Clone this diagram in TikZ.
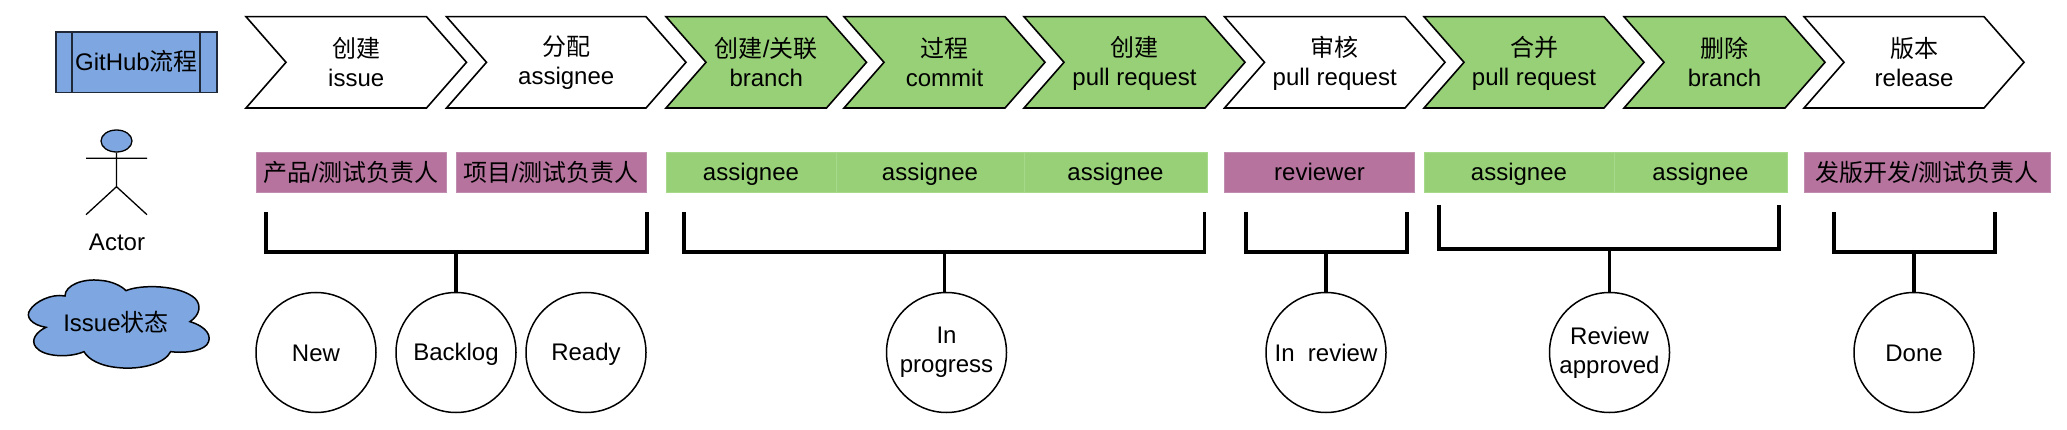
\documentclass[tikz,border=0pt]{standalone}
\usepackage{fontspec}
\setmainfont{Liberation Sans}
\newfontfamily\cjkf{Noto Sans CJK SC}
\usetikzlibrary{shapes.geometric}
\newcommand{\zh}[1]{{\cjkf #1}}
\newcommand{\lnstrut}{\rule{0pt}{20pt}\rule[-3pt]{0pt}{3pt}}
\newcommand{\nl}{\\\lnstrut}
\definecolor{flowblue}{HTML}{7EA6E0}
\definecolor{flowgreen}{HTML}{97D077}
\definecolor{flowgreenline}{HTML}{A6D98A}
\definecolor{flowpurple}{HTML}{B5739D}
\definecolor{flowpurpleline}{HTML}{C08CB0}
\tikzset{
  x=1pt,y=-1pt,
  txt/.style={font=\fontsize{24}{29}\selectfont,align=center,text=black,inner sep=0pt,execute at begin node=\lnstrut},
  chevline/.style={draw=black,line width=1.6pt,line join=miter},
  greenbox/.style={txt,fill=flowgreen,draw=flowgreenline,line width=1pt,minimum height=39.5pt},
  purplebox/.style={txt,fill=flowpurple,draw=flowpurpleline,line width=1pt,minimum height=39.5pt},
  statecircle/.style={txt,circle,draw=black,fill=white,line width=1.5pt,minimum size=120pt},
  bracketline/.style={draw=black,line width=3.8pt,line cap=butt,line join=miter},
  thinline/.style={draw=black,line width=1.3pt},
}
% name, left, tip, fill, text
\newcommand{\chev}[5]{%
  \path[chevline,fill=#4] (#2,16.7) -- (#3-40,16.7) -- (#3,62.3) -- (#3-40,108) -- (#2,108) -- (#2+40,62.3) -- cycle;
  \node[txt] (#1) at ({(#2+#3)/2},63) {#5};}
\begin{document}
\begin{tikzpicture}
\useasboundingbox (0,0) rectangle (2067,430);
\fill[white] (0,0) rectangle (2067,430);
% GitHub box
\node[txt,draw=black!75!flowblue,fill=flowblue,line width=1.3pt,minimum width=161pt,minimum height=60.5pt] (gh) at (136.5,62.3) {GitHub\zh{流程}};
\coordinate (ghat) at (72,32); \coordinate (ghab) at (72,92.6);
\coordinate (ghbt) at (200,32); \coordinate (ghbb) at (200,92.6);
\draw[draw=black!75!flowblue,line width=1.3pt] (ghat) -- (ghab) (ghbt) -- (ghbb);
% chevrons
\chev{c1}{246}{466.5}{white}{\zh{创建}\nl issue}
\chev{c2}{446.5}{686}{white}{\zh{分配}\nl assignee}
\chev{c3}{666}{866.5}{flowgreen}{\zh{创建}/\zh{关联}\nl branch}
\chev{c4}{844}{1045}{flowgreen}{\zh{过程}\nl commit}
\chev{c5}{1024}{1245}{flowgreen}{\zh{创建}\nl pull request}
\chev{c6}{1224.5}{1445}{white}{\zh{审核}\nl pull request}
\chev{c7}{1424}{1644}{flowgreen}{\zh{合并}\nl pull request}
\chev{c8}{1624}{1825}{flowgreen}{\zh{删除}\nl branch}
\chev{c9}{1804}{2024}{white}{\zh{版本}\nl release}
% role boxes
\node[purplebox,minimum width=190pt] (r1) at (351,172.5) {\zh{产品}/\zh{测试负责人}};
\node[purplebox,minimum width=190pt] (r2) at (551,172.5) {\zh{项目}/\zh{测试负责人}};
\node[greenbox,minimum width=170pt] (r3) at (751,172.5) {assignee};
\node[greenbox,minimum width=188pt] (r4) at (930,172.5) {assignee};
\node[greenbox,minimum width=183pt] (r5) at (1115.5,172.5) {assignee};
\node[purplebox,minimum width=190pt] (r6) at (1319.5,172.5) {reviewer};
\node[greenbox,minimum width=190pt] (r7) at (1519,172.5) {assignee};
\node[greenbox,minimum width=173pt] (r8) at (1700.5,172.5) {assignee};
\node[purplebox,minimum width=246pt] (r9) at (1927,172.5) {\zh{发版开发}/\zh{测试负责人}};
% actor
\node[ellipse,draw=black,fill=flowblue,line width=1.3pt,minimum width=31pt,minimum height=22pt,inner sep=0pt] (head) at (116.5,141) {};
\coordinate (armL) at (86,158.3); \coordinate (armR) at (147,158.3);
\coordinate (hip) at (116.5,186.7);
\coordinate (legL) at (86,214.7); \coordinate (legR) at (147,214.7);
\draw[thinline] (head) -- (hip) (armL) -- (armR) (legL) -- (hip) -- (legR);
\node[txt] (actor) at (117,241.7) {Actor};
% cloud
\begin{scope}[x=0.3333pt,y=-0.3333pt,xshift=20pt,yshift=-270pt]
\draw[draw=black,fill=flowblue,line width=1.5pt]
  (78,172) .. controls (35,165) and (15,140) .. (30,120)
  .. controls (45,95) and (95,70) .. (135,78)
  .. controls (135,45) and (190,25) .. (240,31)
  .. controls (275,33) and (305,48) .. (318,62)
  .. controls (365,42) and (480,45) .. (525,85)
  .. controls (545,105) and (540,135) .. (510,155)
  .. controls (560,170) and (580,200) .. (560,225)
  .. controls (540,245) and (490,250) .. (452,245)
  .. controls (435,280) and (365,300) .. (295,293)
  .. controls (240,288) and (205,268) .. (192,245)
  .. controls (145,265) and (70,260) .. (48,232)
  .. controls (30,210) and (50,185) .. (78,172) -- cycle;
\end{scope}
\node[txt] (issue) at (116,323) {Issue\zh{状态}};
% state circles
\node[statecircle] (new) at (316,352.5) {New};
\node[statecircle] (backlog) at (456,352.5) {Backlog};
\node[statecircle] (ready) at (586,352.5) {Ready};
\node[statecircle] (prog) at (946.5,352.5) {In\nl progress};
\node[statecircle] (rev) at (1326,352.5) {In\ \ review};
\node[statecircle] (appr) at (1609.5,352.5) {Review\nl approved};
\node[statecircle] (done) at (1914,352.5) {Done};
% brackets
\coordinate (a1) at (266,212); \coordinate (a2) at (647,212); \coordinate (a3) at (456,252.3);
\draw[bracketline] (a1) |- (a3) -| (a2); \draw[bracketline] (a3) -- (a3 |- backlog.north);
\coordinate (b1) at (684,212); \coordinate (b2) at (1204.5,212); \coordinate (b3) at (944.5,252.3);
\draw[bracketline] (b1) |- (b3) -| (b2); \draw[bracketline] (b3) -- (b3 |- prog.north);
\coordinate (d1) at (1246,212); \coordinate (d2) at (1407,212); \coordinate (d3) at (1326,252.3);
\draw[bracketline] (d1) |- (d3) -| (d2); \draw[bracketline] (d3) -- (d3 |- rev.north);
\coordinate (e1) at (1439,205); \coordinate (e2) at (1779,205); \coordinate (e3) at (1609.5,248.7);
\draw[bracketline] (e1) |- (e3) -| (e2); \draw[bracketline] (e3) -- (e3 |- appr.north);
\coordinate (f1) at (1834,212); \coordinate (f2) at (1995,212); \coordinate (f3) at (1914,252.3);
\draw[bracketline] (f1) |- (f3) -| (f2); \draw[bracketline] (f3) -- (f3 |- done.north);
\end{tikzpicture}
\end{document}
